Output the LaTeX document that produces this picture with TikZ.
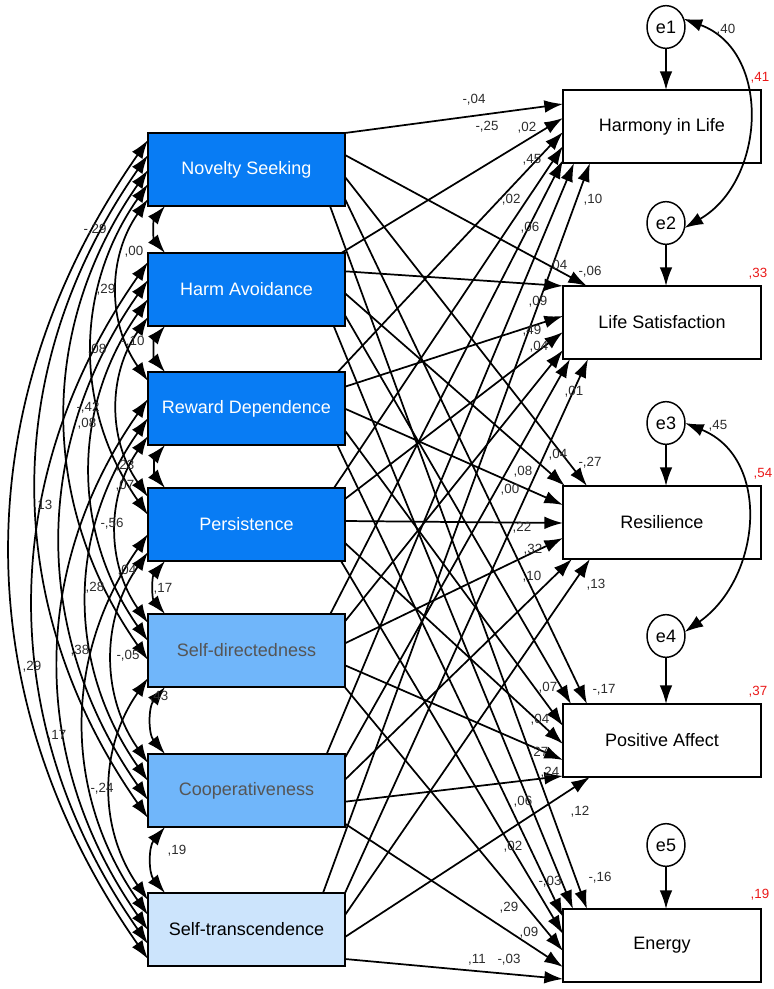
\documentclass[tikz,border=0pt]{standalone}
\usepackage{fontspec}
\setmainfont{Liberation Sans}
\usetikzlibrary{arrows.meta,calc,shapes.geometric}
\definecolor{dblue}{RGB}{8,124,244}
\definecolor{mblue}{RGB}{112,182,250}
\definecolor{lblue}{RGB}{204,228,252}
\definecolor{labgray}{RGB}{45,45,45}
\definecolor{sdgray}{RGB}{85,85,85}
\definecolor{rsq}{RGB}{235,25,25}
\newcommand{\semPath}[4]{%
  \pgfmathsetmacro\semSX{ifthenelse(#3<0,#3,ifthenelse(#3>73,73-(#3),0))}%
  \pgfmathsetmacro\semSY{ifthenelse(#3<0,0,ifthenelse(#3>73,73,#3))}%
  \pgfmathsetmacro\semTX{ifthenelse(#4<0,0-(#4),ifthenelse(#4>73,(#4)-73,0))}%
  \pgfmathsetmacro\semTY{ifthenelse(#4<0,0,ifthenelse(#4>73,73,#4))}%
  \draw[patharr] ($(#1.north east)+(\semSX,\semSY)$) -- ($(#2.north west)+(\semTX,\semTY)$);%
}
\begin{document}
\begin{tikzpicture}[x=0.75pt,y=-0.75pt,
  predbox/.style={draw=black,line width=1.1pt,minimum width=147.75pt,minimum height=54.75pt,inner sep=0pt,outer sep=0pt,anchor=north west,font=\fontsize{13.5}{16}\selectfont},
  outbox/.style={draw=black,fill=white,line width=1.1pt,minimum width=148.5pt,minimum height=54.75pt,inner sep=0pt,outer sep=0pt,anchor=north west,font=\fontsize{13.5}{16}\selectfont},
  errn/.style={ellipse,draw=black,fill=white,line width=1.1pt,minimum width=28.5pt,minimum height=32pt,inner sep=0pt,outer sep=0pt,font=\fontsize{13.5}{16}\selectfont},
  patharr/.style={line width=1.3pt,-{Latex[length=14pt,width=9.5pt]}},
  covarr/.style={line width=1.3pt,{Latex[length=14pt,width=9.5pt]}-{Latex[length=14pt,width=9.5pt]}},
  lab/.style={font=\fontsize{10}{12}\selectfont,text=labgray,inner sep=0pt},
  rlab/.style={font=\fontsize{10}{12}\selectfont,text=rsq,inner sep=0pt}]
\fill[white] (0,0) rectangle (774,989);
\useasboundingbox (0,0) rectangle (774,989);

% predictors
\node[predbox,fill=dblue,text=white] (ns) at (148,133) {Novelty Seeking};
\node[predbox,fill=dblue,text=white] (ha) at (148,253) {Harm Avoidance};
\node[predbox,fill=dblue,text=white] (rd) at (148,372) {Reward Dependence};
\node[predbox,fill=dblue,text=white] (pe) at (148,488) {Persistence};
\node[predbox,fill=mblue,text=sdgray] (sd) at (148,614) {Self-directedness};
\node[predbox,fill=mblue,text=sdgray] (co) at (148,754) {Cooperativeness};
\node[predbox,fill=lblue,text=black] (st) at (148,893) {Self-transcendence};

% outcomes
\node[outbox] (hil) at (563,90) {Harmony in Life};
\node[outbox] (ls) at (563,286) {Life Satisfaction};
\node[outbox] (res) at (563,486) {Resilience};
\node[outbox] (pa) at (563,704) {Positive Affect};
\node[outbox] (en) at (563,909) {Energy};

% errors
\node[errn] (e1) at (666,27) {e1};
\node[errn] (e2) at (666,223) {e2};
\node[errn] (e3) at (666,423) {e3};
\node[errn] (e4) at (666,636) {e4};
\node[errn] (e5) at (666,845) {e5};
\draw[patharr] (e1) -- (e1 |- hil.north);
\draw[patharr] (e2) -- (e2 |- ls.north);
\draw[patharr] (e3) -- (e3 |- res.north);
\draw[patharr] (e4) -- (e4 |- pa.north);
\draw[patharr] (e5) -- (e5 |- en.north);
\draw[covarr] (e1.25) to[out=-20,in=30,looseness=1.15] (e2.-15);
\draw[covarr] (e3.0) to[out=-22,in=35,looseness=1.15] (e4.12);

% regression paths
\foreach \a/\b/\p/\q in {
 ns/hil/0/14, ns/ls/22/-24, ns/res/44/-24, ns/pa/66/-24, ns/en/88/-24,
 ha/hil/-3.7/28, ha/ls/18.3/0, ha/res/40.3/-2, ha/pa/62.3/-8, ha/en/84.3/-10,
 rd/hil/-7.3/42, rd/ls/14.7/30, rd/res/36.7/19, rd/pa/58.7/22, rd/en/80.7/8,
 pe/hil/-11/56, pe/ls/11/46, pe/res/33/37, pe/pa/55/40, pe/en/77/25,
 sd/hil/-14.7/70, sd/ls/7.3/64, sd/res/29.3/52, sd/pa/51.3/56, sd/en/73.3/42,
 co/hil/-18.3/84, co/ls/3.7/80, co/res/25.7/82, co/pa/47.7/72, co/en/69.7/58,
 st/hil/-22/100, st/ls/0/98, st/res/22/100, st/pa/44/100, st/en/66/70}
 {\semPath{\a}{\b}{\p}{\q}}

% covariances among predictors
\foreach \a/\pa/\b/\pb in {
 ns/66/rd/9, ns/51/pe/27, ns/37/sd/46, ns/22/co/64, ns/7/st/66,
 ha/64/pe/9, ha/46/sd/27, ha/27/co/46, ha/9/st/51,
 rd/64/sd/9, rd/46/co/27, rd/27/st/37,
 pe/64/co/9, pe/46/st/22,
 sd/64/st/7}
 {\draw[covarr] ($(\a.north west)+(0,\pa)$) to[bend right=35] ($(\b.north west)+(0,\pb)$);}
\foreach \a/\b in {ns/ha, ha/rd, rd/pe, pe/sd, sd/co, co/st}
 {\draw[covarr] ($(\a.south west)+(17,0)$) to[bend right=40] ($(\b.north west)+(17,0)$);}

% covariance labels
\node[lab] (c1) at (95,230) {-,29};
\node[lab] (c2) at (134,252) {,00};
\node[lab] (c3) at (106,290) {,29};
\node[lab] (c4) at (133,342) {-,10};
\node[lab] (c5) at (97,350) {,08};
\node[lab] (c6) at (88,408) {-,42};
\node[lab] (c7) at (87,424) {,08};
\node[lab] (c8) at (125,466) {,23};
\node[lab] (c9) at (125,486) {,07};
\node[lab] (c10) at (43,506) {,13};
\node[lab] (c11) at (112,524) {-,56};
\node[lab] (c12) at (127,571) {,04};
\node[lab] (c13) at (163,589) {,17};
\node[lab] (c14) at (95,588) {,28};
\node[lab] (c15) at (128,656) {-,05};
\node[lab] (c16) at (80,651) {,38};
\node[lab] (c17) at (32,667) {,29};
\node[lab] (c18) at (159,697) {,43};
\node[lab] (c19) at (57,736) {,17};
\node[lab] (c20) at (102,789) {-,24};
\node[lab] (c21) at (177,851) {,19};

% path labels
\node[lab] (p1) at (474,100) {-,04};
\node[lab] (p2) at (487,127) {-,25};
\node[lab] (p3) at (527,128) {,02};
\node[lab] (p4) at (532,160) {,45};
\node[lab] (p5) at (509,200) {-,02};
\node[lab] (p6) at (530,228) {,06};
\node[lab] (p7) at (593,200) {,10};
\node[lab] (p8) at (558,266) {,04};
\node[lab] (p9) at (590,272) {-,06};
\node[lab] (p10) at (538,302) {,09};
\node[lab] (p11) at (532,331) {,49};
\node[lab] (p12) at (539,347) {,04};
\node[lab] (p13) at (574,392) {,01};
\node[lab] (p14) at (558,455) {,04};
\node[lab] (p15) at (590,463) {-,27};
\node[lab] (p16) at (523,472) {,08};
\node[lab] (p17) at (510,490) {,00};
\node[lab] (p18) at (522,528) {,22};
\node[lab] (p19) at (533,550) {,32};
\node[lab] (p20) at (532,577) {,10};
\node[lab] (p21) at (596,585) {,13};
\node[lab] (p22) at (548,688) {,07};
\node[lab] (p23) at (604,690) {-,17};
\node[lab] (p24) at (540,720) {,04};
\node[lab] (p25) at (539,753) {,27};
\node[lab] (p26) at (550,773) {,24};
\node[lab] (p27) at (523,802) {,06};
\node[lab] (p28) at (580,812) {,12};
\node[lab] (p29) at (513,847) {,02};
\node[lab] (p30) at (550,882) {-,03};
\node[lab] (p31) at (600,878) {-,16};
\node[lab] (p32) at (509,908) {,29};
\node[lab] (p33) at (529,933) {,09};
\node[lab] (p34) at (477,960) {,11};
\node[lab] (p35) at (509,960) {-,03};

% error covariance labels
\node[lab] (ec1) at (726,30) {,40};
\node[lab] (ec2) at (718,426) {,45};

% squared multiple correlations
\node[rlab] (r1) at (760,78) {,41};
\node[rlab] (r2) at (758,274) {,33};
\node[rlab] (r3) at (763,474) {,54};
\node[rlab] (r4) at (758,692) {,37};
\node[rlab] (r5) at (760,895) {,19};
\end{tikzpicture}
\end{document}
